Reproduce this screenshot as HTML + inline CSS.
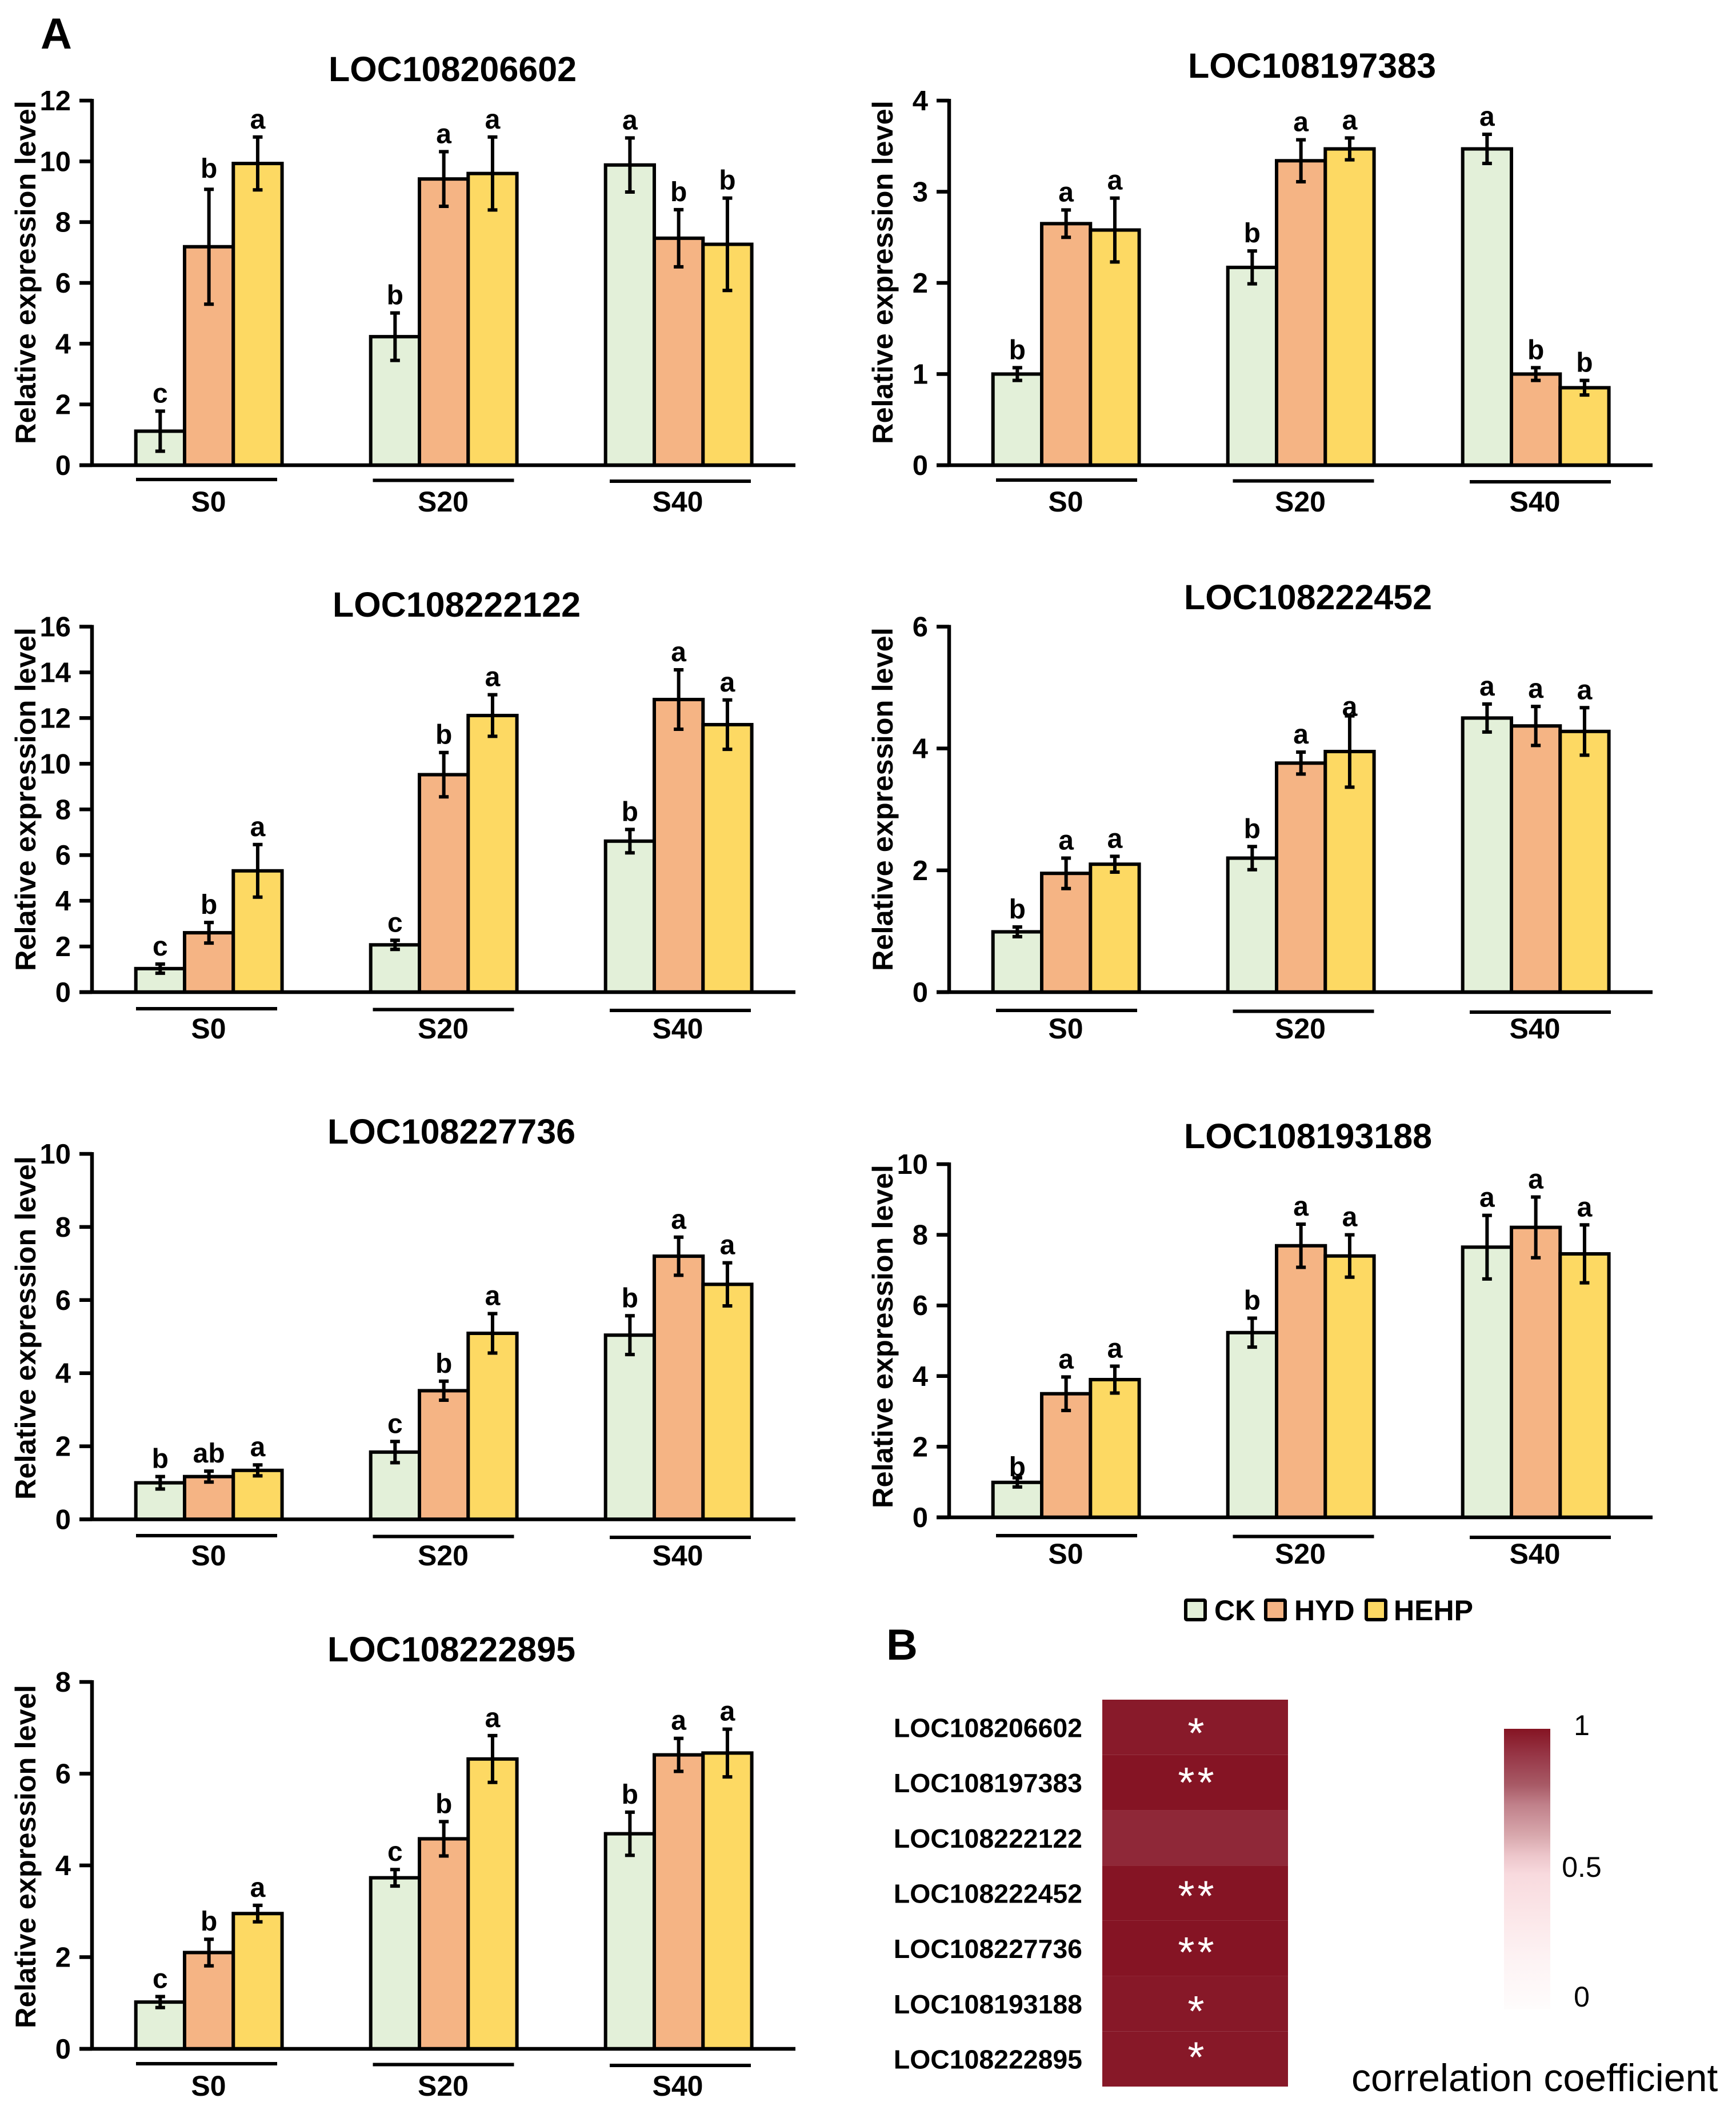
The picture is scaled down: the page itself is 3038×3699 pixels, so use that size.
<!DOCTYPE html>
<html lang="en">
<head>
<meta charset="utf-8">
<title>Relative expression bar charts and correlation heatmap</title>
<style>
html,body{margin:0;padding:0;background:#fff;width:3038px;height:3699px;overflow:hidden}
svg{display:block;font-family:"Liberation Sans",Arial,sans-serif}
</style>
</head>
<body>
<svg id="figure" xmlns="http://www.w3.org/2000/svg" width="3038" height="3699" viewBox="0 0 3038 3699">
<defs>
<linearGradient id="cbar" x1="0" y1="0" x2="0" y2="1">
<stop offset="0" stop-color="#851423"/>
<stop offset="0.09" stop-color="#963545"/>
<stop offset="0.2" stop-color="#a85a66"/>
<stop offset="0.27" stop-color="#c0808a"/>
<stop offset="0.38" stop-color="#d8a8ad"/>
<stop offset="0.45" stop-color="#ecc5ca"/>
<stop offset="0.52" stop-color="#f8dade"/>
<stop offset="0.66" stop-color="#fbe6e8"/>
<stop offset="0.81" stop-color="#fdf2f3"/>
<stop offset="1" stop-color="#fefcfc"/>
</linearGradient>
</defs>
<text x="71" y="85" font-size="76" font-weight="700">A</text>
<text x="1551" y="2904" font-size="76" font-weight="700">B</text>
<g>
<g>
<rect x="2075" y="2800" width="34" height="34" rx="2" fill="#e3f0d9" stroke="#000" stroke-width="6"/>
<text x="2125" y="2835" font-size="50" font-weight="700">CK</text>
</g>
<g>
<rect x="2215" y="2800" width="34" height="34" rx="2" fill="#f5b484" stroke="#000" stroke-width="6"/>
<text x="2265" y="2835" font-size="50" font-weight="700">HYD</text>
</g>
<g>
<rect x="2391" y="2800" width="34" height="34" rx="2" fill="#fdd963" stroke="#000" stroke-width="6"/>
<text x="2439" y="2835" font-size="50" font-weight="700">HEHP</text>
</g>
</g>
<g id="charts"></g>
<g id="heatmap"></g>
<g>
<rect x="2632" y="3025" width="81" height="491" fill="url(#cbar)"/>
<text x="2768" y="3036" font-size="50" text-anchor="middle">1</text>
<text x="2768" y="3284" font-size="50" text-anchor="middle">0.5</text>
<text x="2768" y="3511" font-size="50" text-anchor="middle">0</text>
<text x="2365" y="3659" font-size="68">correlation coefficient</text>
</g>
</svg>
<script>
const categories = ['S0', 'S20', 'S40'];
const seriesNames = ['CK', 'HYD', 'HEHP'];

const gene1Name = 'LOC108206602';
const gene1Ticks = [0, 2, 4, 6, 8, 10, 12];
const gene1Ck = [1.12, 4.23, 9.88];
const gene1Hyd = [7.19, 9.42, 7.47];
const gene1Hehp = [9.93, 9.6, 7.27];
const gene1CkErr = [0.66, 0.78, 0.89];
const gene1HydErr = [1.89, 0.9, 0.94];
const gene1HehpErr = [0.87, 1.2, 1.52];
const gene1Letters = ['c', 'b', 'a', 'b', 'a', 'a', 'a', 'b', 'b'];

const gene2Name = 'LOC108197383';
const gene2Ticks = [0, 1, 2, 3, 4];
const gene2Ck = [1.0, 2.17, 3.47];
const gene2Hyd = [2.65, 3.34, 1.0];
const gene2Hehp = [2.58, 3.47, 0.85];
const gene2CkErr = [0.07, 0.18, 0.16];
const gene2HydErr = [0.15, 0.23, 0.07];
const gene2HehpErr = [0.35, 0.12, 0.08];
const gene2Letters = ['b', 'a', 'a', 'b', 'a', 'a', 'a', 'b', 'b'];

const gene3Name = 'LOC108222122';
const gene3Ticks = [0, 2, 4, 6, 8, 10, 12, 14, 16];
const gene3Ck = [1.03, 2.07, 6.61];
const gene3Hyd = [2.6, 9.52, 12.81];
const gene3Hehp = [5.31, 12.11, 11.71];
const gene3CkErr = [0.2, 0.2, 0.51];
const gene3HydErr = [0.45, 0.97, 1.3];
const gene3HehpErr = [1.15, 0.91, 1.08];
const gene3Letters = ['c', 'b', 'a', 'c', 'b', 'a', 'b', 'a', 'a'];

const gene4Name = 'LOC108222452';
const gene4Ticks = [0, 2, 4, 6];
const gene4Ck = [0.99, 2.2, 4.5];
const gene4Hyd = [1.95, 3.76, 4.37];
const gene4Hehp = [2.1, 3.95, 4.28];
const gene4CkErr = [0.08, 0.19, 0.23];
const gene4HydErr = [0.25, 0.18, 0.32];
const gene4HehpErr = [0.13, 0.585, 0.39];
const gene4Letters = ['b', 'a', 'a', 'b', 'a', 'a', 'a', 'a', 'a'];

const gene5Name = 'LOC108227736';
const gene5Ticks = [0, 2, 4, 6, 8, 10];
const gene5Ck = [1.0, 1.84, 5.04];
const gene5Hyd = [1.17, 3.52, 7.2];
const gene5Hehp = [1.34, 5.09, 6.43];
const gene5CkErr = [0.17, 0.29, 0.53];
const gene5HydErr = [0.15, 0.26, 0.52];
const gene5HehpErr = [0.15, 0.54, 0.59];
const gene5Letters = ['b', 'ab', 'a', 'c', 'b', 'a', 'b', 'a', 'a'];

const gene6Name = 'LOC108193188';
const gene6Ticks = [0, 2, 4, 6, 8, 10];
const gene6Ck = [0.99, 5.23, 7.65];
const gene6Hyd = [3.5, 7.69, 8.21];
const gene6Hehp = [3.9, 7.4, 7.46];
const gene6CkErr = [0.13, 0.41, 0.9];
const gene6HydErr = [0.475, 0.61, 0.86];
const gene6HehpErr = [0.38, 0.6, 0.82];
const gene6Letters = ['b', 'a', 'a', 'b', 'a', 'a', 'a', 'a', 'a'];

const gene7Name = 'LOC108222895';
const gene7Ticks = [0, 2, 4, 6, 8];
const gene7Ck = [1.02, 3.73, 4.69];
const gene7Hyd = [2.1, 4.58, 6.41];
const gene7Hehp = [2.95, 6.32, 6.45];
const gene7CkErr = [0.12, 0.18, 0.47];
const gene7HydErr = [0.29, 0.375, 0.36];
const gene7HehpErr = [0.18, 0.51, 0.52];
const gene7Letters = ['c', 'b', 'a', 'c', 'b', 'a', 'b', 'a', 'a'];

const heatGenes = ['LOC108206602', 'LOC108197383', 'LOC108222122', 'LOC108222452', 'LOC108227736', 'LOC108193188', 'LOC108222895'];
const heatCorrelation = [0.985, 1.0, 0.945, 1.0, 1.0, 0.99, 0.99];
const heatStars = ['*', '**', '', '**', '**', '*', '*'];

const NS = 'http://www.w3.org/2000/svg';
const seriesColors = ['#e3f0d9', '#f5b484', '#fdd963'];
const BAR_W = 85.3;
const GROUP_STEP = 411;
const FIRST_BAR = 76.7;

function mk(tag, attrs, parent, text) {
  const el = document.createElementNS(NS, tag);
  for (const k in attrs) el.setAttribute(k, attrs[k]);
  if (text !== undefined) el.textContent = text;
  parent.appendChild(el);
  return el;
}

function slug(s) { return String(s).toLowerCase().replace(/[^a-z0-9]+/g, '-'); }

function drawChart(c) {
  const root = document.getElementById('charts');
  const g = mk('g', {}, root);
  
  
  const maxTick = c.ticks[c.ticks.length - 1];
  const y = v => c.y0 - (v / maxTick) * (c.y0 - c.yTop);
  const barX = (gi, si) => c.x0 + FIRST_BAR + gi * GROUP_STEP + si * BAR_W;

  const title = mk('text', { x: c.titleX - 1, y: c.titleY + 21, 'font-size': 61, 'font-weight': 700, 'text-anchor': 'middle' }, g, c.name);
  
  

  const ytitle = mk('text', { transform: 'translate(' + (c.x0 - 99) + ',' + c.yTitleBottom + ') rotate(-90)', 'font-size': 50.5, 'font-weight': 700 }, g, 'Relative expression level');
  
  

  c.series.forEach((vals, si) => {
    vals.forEach((v, gi) => {
      const bar = mk('rect', { x: barX(gi, si), y: y(v), width: BAR_W, height: c.y0 - y(v), fill: seriesColors[si], stroke: '#000', 'stroke-width': 6 }, g);
      
      
    });
  });

  c.series.forEach((vals, si) => {
    vals.forEach((v, gi) => {
      const e = c.errs[si][gi];
      const cx = barX(gi, si) + BAR_W / 2;
      const eb = mk('path', { d: 'M' + cx + ' ' + y(v + e) + 'V' + y(v - e) + 'M' + (cx - 8.5) + ' ' + y(v + e) + 'h17M' + (cx - 8.5) + ' ' + y(v - e) + 'h17', stroke: '#000', 'stroke-width': 6, fill: 'none' }, g);
      
      
      const idx = gi * 3 + si;
      const gap = (c.gapFix && c.gapFix[idx] !== undefined) ? c.gapFix[idx] : 15;
      const lab = mk('text', { x: cx, y: y(v + e) - gap, 'font-size': 48, 'font-weight': 700, 'text-anchor': 'middle' }, g, c.letters[idx]);
      
      
    });
  });

  const yAxis = mk('line', { x1: c.x0, x2: c.x0, y1: c.yTop - 3, y2: c.y0 + 3, stroke: '#000', 'stroke-width': 6.5 }, g);
  
  
  const xAxis = mk('line', { x1: c.x0 - 22, x2: c.x0 + 1231, y1: c.y0, y2: c.y0, stroke: '#000', 'stroke-width': 6.5 }, g);
  
  

  c.ticks.forEach(t => {
    const tick = mk('line', { x1: c.x0 - 22, x2: c.x0, y1: y(t), y2: y(t), stroke: '#000', 'stroke-width': 6.5 }, g);
    
    
    const tl = mk('text', { x: c.x0 - 37, y: y(t) + 17, 'font-size': 49, 'font-weight': 700, 'text-anchor': 'end' }, g, t);
    
    
  });

  categories.forEach((cat, gi) => {
    const ulx = c.x0 + c.ulOffset + gi * 414.5;
    const ul = mk('line', { x1: ulx, x2: ulx + 247, y1: c.ulY + gi * 1.5, y2: c.ulY + gi * 1.5, stroke: '#000', 'stroke-width': 6 }, g);
    
    
    const cl = mk('text', { x: c.x0 + 204 + gi * 410.5, y: c.catY + 16, 'font-size': 50, 'font-weight': 700, 'text-anchor': 'middle' }, g, cat);
    
    
  });
}

drawChart({ name: gene1Name, ticks: gene1Ticks, series: [gene1Ck, gene1Hyd, gene1Hehp], errs: [gene1CkErr, gene1HydErr, gene1HehpErr], letters: gene1Letters, x0: 161, y0: 814, yTop: 176, titleX: 793, titleY: 121, yTitleBottom: 777, ulOffset: 77, ulY: 839, catY: 879, gapFix: { 1: 20 } });
drawChart({ name: gene2Name, ticks: gene2Ticks, series: [gene2Ck, gene2Hyd, gene2Hehp], errs: [gene2CkErr, gene2HydErr, gene2HehpErr], letters: gene2Letters, x0: 1661, y0: 814, yTop: 176, titleX: 2297, titleY: 115, yTitleBottom: 777, ulOffset: 82, ulY: 840, catY: 879 });
drawChart({ name: gene3Name, ticks: gene3Ticks, series: [gene3Ck, gene3Hyd, gene3Hehp], errs: [gene3CkErr, gene3HydErr, gene3HehpErr], letters: gene3Letters, x0: 161, y0: 1736, yTop: 1096.5, titleX: 800, titleY: 1058, yTitleBottom: 1699, ulOffset: 77, ulY: 1765, catY: 1801 });
drawChart({ name: gene4Name, ticks: gene4Ticks, series: [gene4Ck, gene4Hyd, gene4Hehp], errs: [gene4CkErr, gene4HydErr, gene4HehpErr], letters: gene4Letters, x0: 1661, y0: 1736, yTop: 1096.5, titleX: 2290, titleY: 1045, yTitleBottom: 1699, ulOffset: 82, ulY: 1768, catY: 1801, gapFix: { 5: 0 } });
drawChart({ name: gene5Name, ticks: gene5Ticks, series: [gene5Ck, gene5Hyd, gene5Hehp], errs: [gene5CkErr, gene5HydErr, gene5HehpErr], letters: gene5Letters, x0: 161, y0: 2658.5, yTop: 2019, titleX: 791, titleY: 1980, yTitleBottom: 2624, ulOffset: 77, ulY: 2687, catY: 2723 });
drawChart({ name: gene6Name, ticks: gene6Ticks, series: [gene6Ck, gene6Hyd, gene6Hehp], errs: [gene6CkErr, gene6HydErr, gene6HehpErr], letters: gene6Letters, x0: 1661, y0: 2655, yTop: 2037, titleX: 2290, titleY: 1988, yTitleBottom: 2639, ulOffset: 82, ulY: 2687, catY: 2720, gapFix: { 0: 3 } });
drawChart({ name: gene7Name, ticks: gene7Ticks, series: [gene7Ck, gene7Hyd, gene7Hehp], errs: [gene7CkErr, gene7HydErr, gene7HehpErr], letters: gene7Letters, x0: 161, y0: 3585, yTop: 2943, titleX: 791, titleY: 2886, yTitleBottom: 3549, ulOffset: 77, ulY: 3611, catY: 3651 });

function heatColor(v) {
  const dark = [133, 20, 36], next = [150, 53, 69];
  const t = Math.min(1, (1 - v) / 0.09);
  const ch = dark.map((d, i) => Math.round(d + (next[i] - d) * t));
  return 'rgb(' + ch.join(',') + ')';
}

(function drawHeatmap() {
  const root = document.getElementById('heatmap');
  const left = 1929, right = 2254, top = 2974, bottom = 3651;
  const band = (bottom - top) / heatGenes.length;
  const starShift = [0, -10, 0, -5, -3, 3, -13];
  heatGenes.forEach((gene, i) => {
    const cy = top + band * (i + 0.5);
    const cell = mk('rect', { x: left, y: top + band * i, width: right - left, height: band, fill: heatColor(heatCorrelation[i]) }, root);
    
    
    const lab = mk('text', { x: 1894, y: cy + 17, 'font-size': 46.4, 'font-weight': 700, 'text-anchor': 'end' }, root, gene);
    
    
    if (heatStars[i]) {
      const st = mk('text', { x: (left + right) / 2 + 4, y: cy + starShift[i] + 36, 'font-size': 75, fill: '#fff', 'text-anchor': 'middle', 'letter-spacing': 5 }, root, heatStars[i]);
      
      
    }
  });
})();
</script>
</body>
</html>
